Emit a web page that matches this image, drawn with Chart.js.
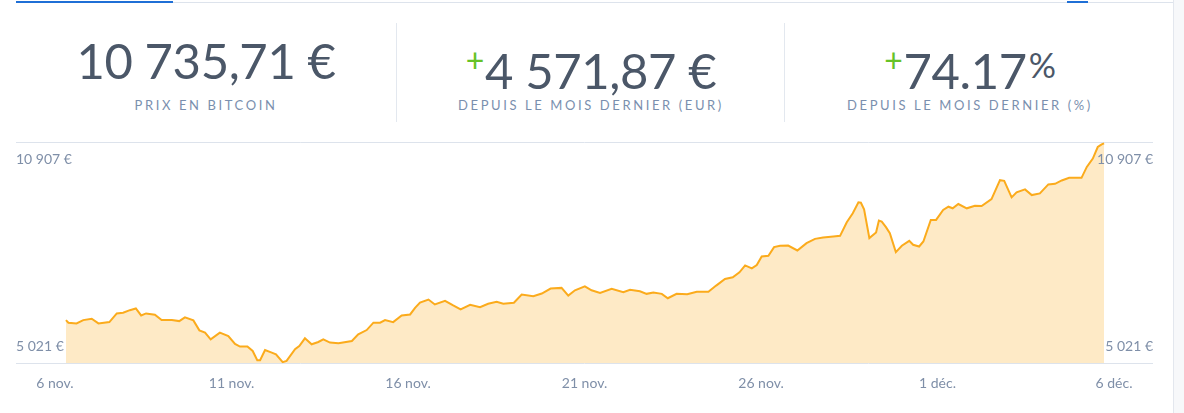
<!DOCTYPE html>
<html>
<head>
<meta charset="utf-8">
<script src="https://cdn.jsdelivr.net/npm/chart.js@4.4.1/dist/chart.umd.min.js"></script>
<style>
  body {
    margin: 0;
    width: 1184px;
    height: 413px;
    overflow: hidden;
    position: relative;
    background: #fff;
    font-family: Lato, "Open Sans", sans-serif;
  }
  #tabs {
    position: absolute;
    left: 16px;
    top: 2px;
    width: 1157px;
    height: 1px;
    background: #dde3ec;
  }
  .tab-on {
    position: absolute;
    top: -1px;
    height: 2px;
    background: #1f6fd6;
  }
  #side {
    position: absolute;
    left: 1173px;
    top: 0;
    width: 11px;
    height: 413px;
    background: #f7f8fa;
    border-left: 1px solid #e3e7ee;
  }
  .stat {
    position: absolute;
    top: 0;
    height: 125px;
    text-align: center;
  }
  .stat.sep {
    border-left: 1px solid #e3e8ef;
    top: 23px;
    height: 99px;
  }
  .value {
    position: absolute;
    left: 0;
    right: 0;
    top: 12px;
    font-size: 49px;
    line-height: 50px;
    font-weight: 400;
    letter-spacing: -0.4px;
    color: #4b5768;
    white-space: nowrap;
  }
  .plus {
    color: #66c227;
    font-size: 32px;
    font-weight: 400;
    vertical-align: 17px;
    margin-right: 1px;
  }
  .pct {
    font-size: 34px;
    vertical-align: 11px;
    margin-left: 2px;
  }
  .label {
    position: absolute;
    left: 0;
    right: 0;
    top: 75px;
    font-size: 13px;
    line-height: 14px;
    letter-spacing: 2.6px;
    color: #7a8fae;
    white-space: nowrap;
  }
  #chart {
    position: absolute;
    left: 0;
    top: 130px;
  }
</style>
</head>
<body>
<div id="tabs">
  <div class="tab-on" style="left:0;width:157px"></div>
  <div class="tab-on" style="left:1051px;width:21px"></div>
</div>
<div id="side"></div>
<div class="stat" style="left:16px;width:380px">
  <div class="value" style="top:35px">10 735,71 €</div>
  <div class="label" style="top:98px">PRIX EN BITCOIN</div>
</div>
<div class="stat sep" style="left:396px;width:388px">
  <div class="value" style="top:12px"><span class="plus">+</span>4 571,87 €</div>
  <div class="label">DEPUIS LE MOIS DERNIER (EUR)</div>
</div>
<div class="stat sep" style="left:784px;width:370px">
  <div class="value" style="top:12px"><span class="plus">+</span>74.17<span class="pct">%</span></div>
  <div class="label">DEPUIS LE MOIS DERNIER (%)</div>
</div>
<canvas id="chart" width="1184" height="283"></canvas>
<script>
// days since 6 nov. (00:00) and the bitcoin price in EUR
let priceDays = [
  0.31, 0.38, 0.61, 0.80, 1.04, 1.23, 1.54, 1.75, 1.93, 2.12, 2.29, 2.44, 2.58, 2.83, 3.02,
  3.31, 3.52, 3.68, 3.92, 4.09, 4.25, 4.41, 4.67, 4.91, 5.10, 5.24, 5.45, 5.60, 5.73, 5.81,
  5.95, 6.14, 6.26, 6.45, 6.56, 6.80, 6.92, 7.08, 7.27, 7.46, 7.60, 7.79, 8.03, 8.41, 8.59,
  8.83, 9.02, 9.21, 9.35, 9.58, 9.82, 10.06, 10.20, 10.34, 10.58, 10.76, 11.05, 11.28, 11.49, 11.76,
  12.04, 12.27, 12.51, 12.70, 13.00, 13.22, 13.55, 13.79, 14.04, 14.35, 14.54, 14.73, 15.01, 15.20, 15.44,
  15.77, 16.10, 16.29, 16.57, 16.76, 16.95, 17.19, 17.36, 17.61, 17.91, 18.18, 18.51, 18.73, 18.98, 19.20,
  19.39, 19.55, 19.74, 19.88, 20.02, 20.21, 20.37, 20.54, 20.77, 21.03, 21.29, 21.53, 21.76, 22.05, 22.24,
  22.43, 22.60, 22.76, 22.83, 22.92, 23.07, 23.26, 23.34, 23.42, 23.54, 23.65, 23.82, 23.99, 24.20, 24.31,
  24.48, 24.60, 24.81, 24.96, 25.16, 25.31, 25.43, 25.59, 25.83, 26.06, 26.25, 26.53, 26.77, 26.89, 27.10,
  27.24, 27.48, 27.67, 27.90, 28.14, 28.33, 28.52, 28.73, 29.08, 29.23, 29.40, 29.54, 29.65, 29.72
];
let priceValues = [
  6153, 6083, 6064, 6153, 6190, 6064, 6099, 6332, 6350, 6420, 6465, 6278, 6332, 6297, 6153,
  6153, 6126, 6225, 6145, 5877, 5815, 5636, 5815, 5725, 5511, 5441, 5441, 5323, 5075, 5075,
  5350, 5280, 5235, 5021, 5056, 5369, 5457, 5663, 5503, 5564, 5636, 5548, 5529, 5591, 5770,
  5885, 6083, 6083, 6153, 6099, 6278, 6305, 6484, 6626, 6706, 6573, 6671, 6546, 6439, 6564,
  6500, 6591, 6645, 6591, 6618, 6840, 6795, 6867, 7001, 7019, 6813, 6955, 7062, 6955, 6885,
  6992, 6902, 6966, 6928, 6859, 6894, 6859, 6741, 6859, 6848, 6912, 6912, 7081, 7260, 7303,
  7437, 7624, 7544, 7634, 7865, 7883, 8116, 8151, 8159, 8025, 8223, 8338, 8373, 8400, 8418,
  8785, 9025, 9320, 9309, 9132, 8357, 8507, 8828, 8801, 8651, 8490, 7982, 8151, 8285, 8178,
  8132, 8266, 8846, 8846, 9114, 9202, 9159, 9274, 9159, 9229, 9221, 9408, 9916, 9898, 9453,
  9587, 9667, 9515, 9560, 9801, 9817, 9908, 9978, 9978, 10272, 10497, 10807, 10879, 10907
];

let tickDays = [0, 5, 10, 15, 20, 25, 30];
let tickLabels = ["6 nov.", "11 nov.", "16 nov.", "21 nov.", "26 nov.", "1 déc.", "6 déc."];

let priceLow = 5021;
let priceHigh = 10907;

let xMin = -1.105;
let xMax = 31.105;
let yMin = 4994;
let yMax = 10942;

let labelColor = "#7f8fa8";

function euro(n) {
  return String(n).replace(/\B(?=(\d{3})+(?!\d))/g, " ") + " €";
}

// the two price labels sit inside the plot, on both sides
let edgeLabels = {
  id: "edgeLabels",
  afterDraw(chart) {
    let ctx = chart.ctx;
    let area = chart.chartArea;
    let y = chart.scales.y;
    ctx.save();
    ctx.font = "14px Lato";
    ctx.fillStyle = labelColor;
    ctx.textBaseline = "middle";
    let hiY = y.getPixelForValue(yMax) + 17.5;
    let loY = y.getPixelForValue(yMin) - 16.5;
    ctx.textAlign = "left";
    ctx.fillText(euro(priceHigh), area.left, hiY);
    ctx.fillText(euro(priceLow), area.left, loY);
    ctx.textAlign = "right";
    ctx.fillText(euro(priceHigh), area.right, hiY);
    ctx.fillText(euro(priceLow), area.right, loY);
    ctx.restore();
  },
};

let priceChart = new Chart("chart", {
  type: "line",
  data: {
    datasets: [
      {
        data: priceDays.map((d, i) => ({ x: d, y: priceValues[i] })),
        borderColor: "#fbab1c",
        borderWidth: 2,
        backgroundColor: "#feeac6",
        fill: "start",
        pointRadius: 0,
        tension: 0,
      },
    ],
  },
  options: {
    responsive: false,
    animation: false,
    layout: {
      padding: { left: 16, right: 31, top: 12, bottom: 9 },
    },
    plugins: {
      legend: { display: false },
      tooltip: { enabled: false },
    },
    scales: {
      x: {
        type: "linear",
        min: xMin,
        max: xMax,
        afterBuildTicks: (axis) => {
          axis.ticks = tickDays.map((v) => ({ value: v }));
        },
        ticks: {
          callback: (value, index) => tickLabels[index],
          color: labelColor,
          font: { family: "Lato", size: 14 },
          padding: 12,
          maxRotation: 0,
          autoSkip: false,
        },
        grid: { display: false, drawTicks: false },
        border: { display: false },
      },
      y: {
        min: yMin,
        max: yMax,
        afterBuildTicks: (axis) => {
          axis.ticks = [{ value: yMin }, { value: yMax }];
        },
        ticks: { display: false },
        grid: { color: "#dde3ec", drawTicks: false },
        border: { display: false },
      },
    },
  },
  plugins: [edgeLabels],
});
</script>
</body>
</html>
